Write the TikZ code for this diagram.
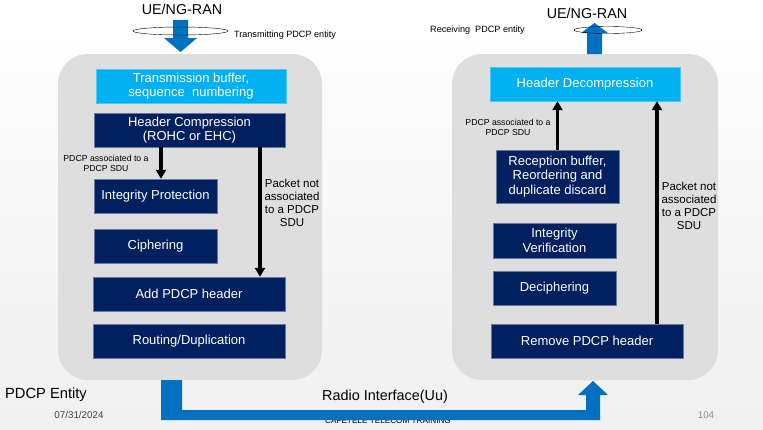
\documentclass[tikz,border=0pt]{standalone}
\usepackage{fontspec}
\setmainfont{Liberation Sans}
\usetikzlibrary{arrows.meta}
\definecolor{navybox}{HTML}{002060}
\definecolor{skybox}{HTML}{00B0F0}
\definecolor{ueblue}{HTML}{0070C0}
\definecolor{panelgray}{HTML}{DEDEDE}
\definecolor{slidegray}{HTML}{F0F0F0}

\begin{document}
\begin{tikzpicture}[x=1pt, y=-1pt,
		stage/.style={rectangle, fill=navybox, draw=navybox!60!white, text=white, align=center, inner sep=0pt, font=\fontsize{13}{14.5}\selectfont},
		lightstage/.style={stage, fill=skybox, draw=skybox!70!white},
		flow/.style={line width=3.2pt, -{Triangle[length=9pt, width=10pt]}},
		note/.style={align=center, font=\fontsize{11.5}{13}\selectfont},
		tiny/.style={align=center, font=\fontsize{8.7}{10}\selectfont}]
		\useasboundingbox (0,0) rectangle (763,429);
		\fill[top color=white, bottom color=slidegray] (0,0) rectangle (763,429);
		\fill[panelgray, rounded corners=30pt] (58,54) rectangle (322,380);
		\fill[panelgray, rounded corners=30pt] (452,54) rectangle (718,380);

		\node[font=\fontsize{14.3}{16}\selectfont] (uetx) at (182,9) {UE/NG-RAN};
		\fill[ueblue] (173,20) -- (188,20) -- (188,38) -- (197,38) -- (180.5,52) -- (164,38) -- (173,38) -- cycle;
		\draw[thin] (180.5,31) ellipse [x radius=47.5, y radius=4];
		\node[font=\fontsize{9.1}{10}\selectfont] (txlabel) at (285,35) {Transmitting PDCP entity};

		\node[font=\fontsize{14.3}{16}\selectfont] (uerx) at (587,13) {UE/NG-RAN};
		\fill[ueblue] (587,54) -- (587,33) -- (581,33) -- (594.5,23) -- (608,33) -- (602,33) -- (602,54) -- cycle;
		\draw[thin] (608,30) ellipse [x radius=34, y radius=3.5];
		\node[font=\fontsize{9.1}{10}\selectfont] (rxlabel) at (477.5,30) {Receiving\ \ PDCP entity};

		\node[lightstage, minimum width=190, minimum height=34] (txbuf) at (191,86) {Transmission buffer,\\sequence\ \ numbering};
		\node[stage, minimum width=191, minimum height=34] (hc) at (189.5,130) {Header Compression\\(ROHC or EHC)};
		\node[stage, minimum width=123, minimum height=34] (ip) at (155.5,196) {Integrity Protection};
		\node[stage, minimum width=123, minimum height=34] (ciph) at (155.5,246) {Ciphering};
		\node[stage, minimum width=192, minimum height=34] (addhdr) at (189,294) {Add PDCP header};
		\node[stage, minimum width=192, minimum height=34] (route) at (189,341) {Routing/Duplication};

		\node[lightstage, minimum width=190, minimum height=34] (hdecomp) at (585,84) {Header Decompression};
		\node[stage, minimum width=123, minimum height=53] (rxbuf) at (557.5,176.5) {Reception buffer,\\Reordering and\\duplicate discard};
		\node[stage, minimum width=123, minimum height=35] (iv) at (554.5,240.5) {Integrity\\Verification};
		\node[stage, minimum width=123, minimum height=34] (deciph) at (554.5,288) {Deciphering};
		\node[stage, minimum width=192, minimum height=34] (rmhdr) at (587,341) {Remove PDCP header};

		\coordinate (lsdu) at (161,0);
		\coordinate (lbypass) at (260,0);
		\coordinate (rbypass) at (657,0);
		\draw[flow] (hc.south -| lsdu) -- (ip.north -| lsdu);
		\draw[flow] (hc.south -| lbypass) -- (addhdr.north -| lbypass);
		\draw[flow] (rxbuf.north) -- (hdecomp.south -| rxbuf.north);
		\draw[flow] (rmhdr.north -| rbypass) -- (hdecomp.south -| rbypass);

		\node[tiny] (lsdutext) at (106,163) {PDCP associated to a\\PDCP SDU};
		\node[note] (lbytext) at (292,203) {Packet not\\associated\\to a PDCP\\SDU};
		\node[tiny] (rsdutext) at (508,127) {PDCP associated to a\\PDCP SDU};
		\node[note] (rbytext) at (689,206) {Packet not\\associated\\to a PDCP\\SDU};

		\node[font=\fontsize{14.7}{16}\selectfont] (entity) at (46,395) {PDCP Entity};
		\node[font=\fontsize{14.4}{16}\selectfont] (uu) at (385,397) {Radio Interface(Uu)};
		\node[black!75, font=\fontsize{9.8}{11}\selectfont] (date) at (79,415) {07/31/2024};
		\node[black!45, font=\fontsize{9.8}{11}\selectfont] (pageno) at (706,415) {104};
		\node[font=\fontsize{8.2}{9}\selectfont] (footer) at (388,421) {CAFETELE TELECOM TRAINING};
		\fill[ueblue] (161,380) -- (182,380) -- (182,410) -- (586,410) -- (586,395) -- (578,395) -- (593,381) -- (608,395) -- (600,395) -- (600,420) -- (161,420) -- cycle;
	\end{tikzpicture}
\end{document}
